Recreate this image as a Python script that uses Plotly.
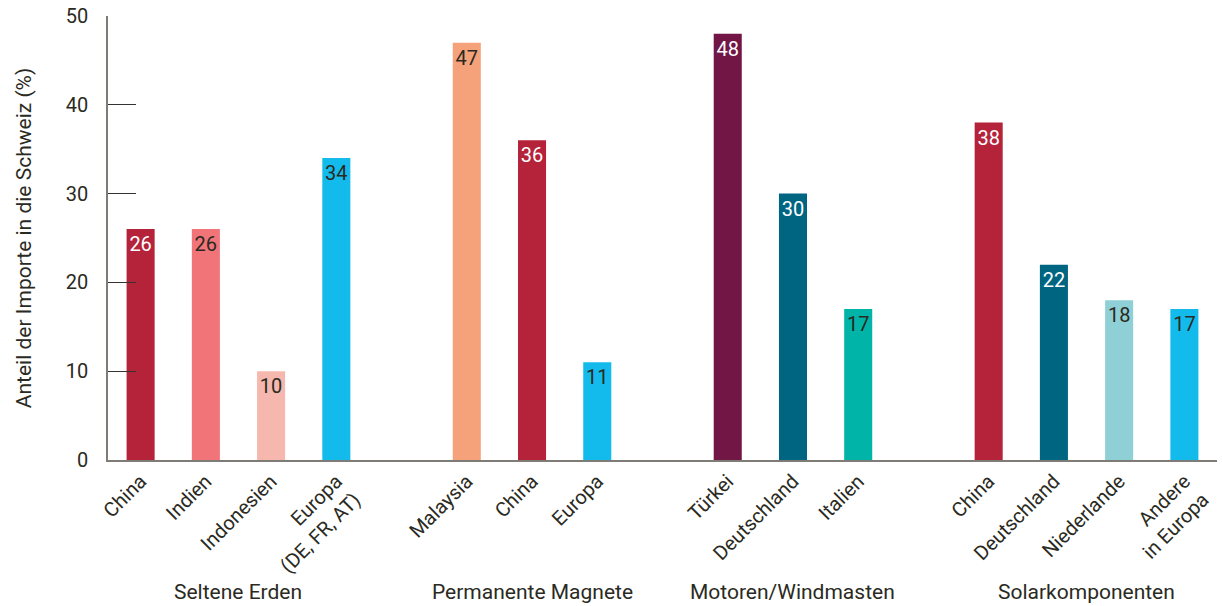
import plotly.graph_objects as go

# Data
labels = ["China", "Indien", "Indonesien", "Europa<br>(DE, FR, AT)",
          "Malaysia", "China", "Europa",
          "Türkei", "Deutschland", "Italien",
          "China", "Deutschland", "Niederlande", "Andere<br>in Europa"]
values = [26, 26, 10, 34, 47, 36, 11, 48, 30, 17, 38, 22, 18, 17]
slots = [0, 1, 2, 3, 5, 6, 7, 9, 10, 11, 13, 14, 15, 16]
colors = ["#b5233b", "#f17479", "#f6b8ae", "#13bbed",
          "#f5a27a", "#b5233b", "#13bbed",
          "#711645", "#006581", "#00b5a8",
          "#b5233b", "#006581", "#8fd0d6", "#13bbed"]
text_colors = ["white", "#2a2a22", "#2a2a22", "#2a2a22",
               "#2a2a22", "white", "#2a2a22",
               "white", "white", "#2a2a22",
               "white", "white", "#2a2a22", "#2a2a22"]
groups = ["Seltene Erden", "Permanente Magnete", "Motoren/Windmasten", "Solarkomponenten"]
group_centers = [1.5, 6, 10, 14.5]
y_ticks = [0, 10, 20, 30, 40, 50]

FONT = "Roboto"
DARK = "#2a2a22"

fig = go.Figure()
fig.add_trace(go.Bar(
    x=slots, y=values, width=0.43,
    marker=dict(color=colors, line=dict(width=0)),
    text=[str(v) for v in values],
    textposition="inside", insidetextanchor="end",
    textangle=0, constraintext="none",
    textfont=dict(color=text_colors, size=20, family=FONT),
    hoverinfo="skip",
))

for g, c in zip(groups, group_centers):
    fig.add_annotation(x=c, xref="x", y=-0.297, yref="paper", text=g,
                       showarrow=False, xanchor="center", yanchor="middle",
                       font=dict(size=21, family=FONT, color=DARK))

fig.update_layout(
    width=1222, height=606,
    margin=dict(l=108, r=5, t=16, b=146),
    paper_bgcolor="white", plot_bgcolor="white",
    showlegend=False,
    font=dict(family=FONT, color=DARK, size=20),
    uniformtext=dict(mode=False),
)
fig.update_xaxes(
    range=[-0.5, 16.5], tickmode="array", tickvals=slots, ticktext=labels,
    tickangle=-45, showgrid=False, zeroline=False,
    showline=True, linecolor="#7f7b76", linewidth=1.5,
    ticks="", tickfont=dict(size=20, family=FONT, color=DARK),
)
fig.update_yaxes(
    range=[0, 50], tickvals=y_ticks, showgrid=False, zeroline=False,
    showline=True, linecolor="#7f7b76", linewidth=1.5,
    ticks="inside", ticklen=28, tickcolor="#333333", tickwidth=1,
    tickfont=dict(size=20, family=FONT, color=DARK),
    ticklabelstandoff=14,
    title=dict(text="Anteil der Importe in die Schweiz (%)", standoff=28,
               font=dict(size=21, family=FONT, color=DARK)),
)

fig.write_html("out.html")
